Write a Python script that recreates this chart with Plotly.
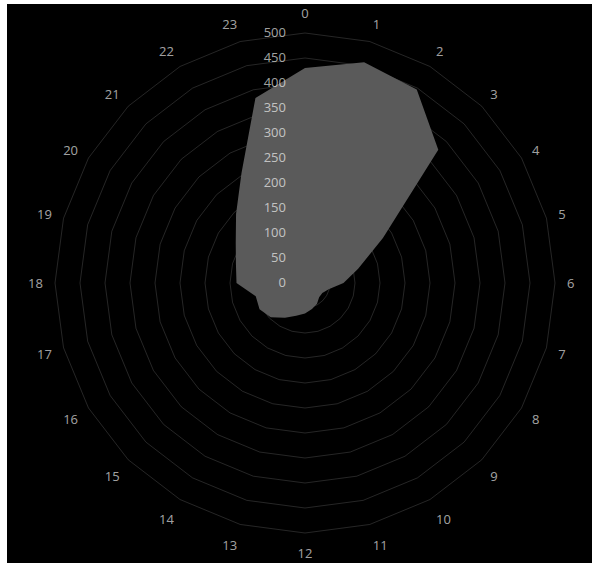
import plotly.graph_objects as go

hours = [str(h) for h in range(24)]
values = [430, 457, 447, 377, 180, 110, 77, 49, 40, 40, 48, 54,
          61, 68, 80, 97, 105, 102, 137, 143, 160, 195, 254, 383]
radial_ticks = [0, 50, 100, 150, 200, 250, 300, 350, 400, 450, 500]

W, H = 592, 563
cx, cy, R = 305, 283, 250

fig = go.Figure()
fig.add_trace(go.Scatterpolar(
    r=values + values[:1],
    theta=hours + hours[:1],
    mode="lines",
    fill="toself",
    fillcolor="rgb(90,90,90)",
    line=dict(width=0, color="rgb(90,90,90)"),
    hoverinfo="skip",
    showlegend=False,
))

grid_col = "rgba(255,255,255,0.15)"
label_col = "rgba(255,255,255,0.65)"
fig.update_layout(
    width=W, height=H,
    margin=dict(l=0, r=0, t=0, b=0),
    paper_bgcolor="white",
    plot_bgcolor="black",
    showlegend=False,
    shapes=[dict(type="rect", xref="paper", yref="paper",
                 x0=7 / W, x1=1, y0=0, y1=1 - 4 / H,
                 fillcolor="black", line=dict(width=0), layer="below")],
    polar=dict(
        bgcolor="rgba(0,0,0,0)",
        gridshape="linear",
        domain=dict(x=[(cx - R) / W, (cx + R) / W],
                    y=[(H - cy - R) / H, (H - cy + R) / H]),
        radialaxis=dict(
            range=[0, 500], tickvals=radial_ticks,
            ticktext=[str(v) for v in radial_ticks],
            angle=90, tickangle=90, side="counterclockwise",
            showline=False, ticks="outside", ticklen=14,
            tickcolor="rgba(0,0,0,0)",
            gridcolor=grid_col, gridwidth=1,
            layer="above traces",
            tickfont=dict(family="Open Sans", size=13, color=label_col),
        ),
        angularaxis=dict(
            type="category", categoryarray=hours,
            rotation=90, direction="clockwise",
            showgrid=False, showline=True, linecolor=grid_col, linewidth=1,
            ticks="outside", ticklen=9, tickcolor="rgba(0,0,0,0)",
            layer="above traces",
            tickfont=dict(family="Open Sans", size=13, color=label_col),
        ),
    ),
)

fig.write_html("out.html",
               config={"displayModeBar": False, "staticPlot": True},
               post_script="document.body.style.margin='0px';")
